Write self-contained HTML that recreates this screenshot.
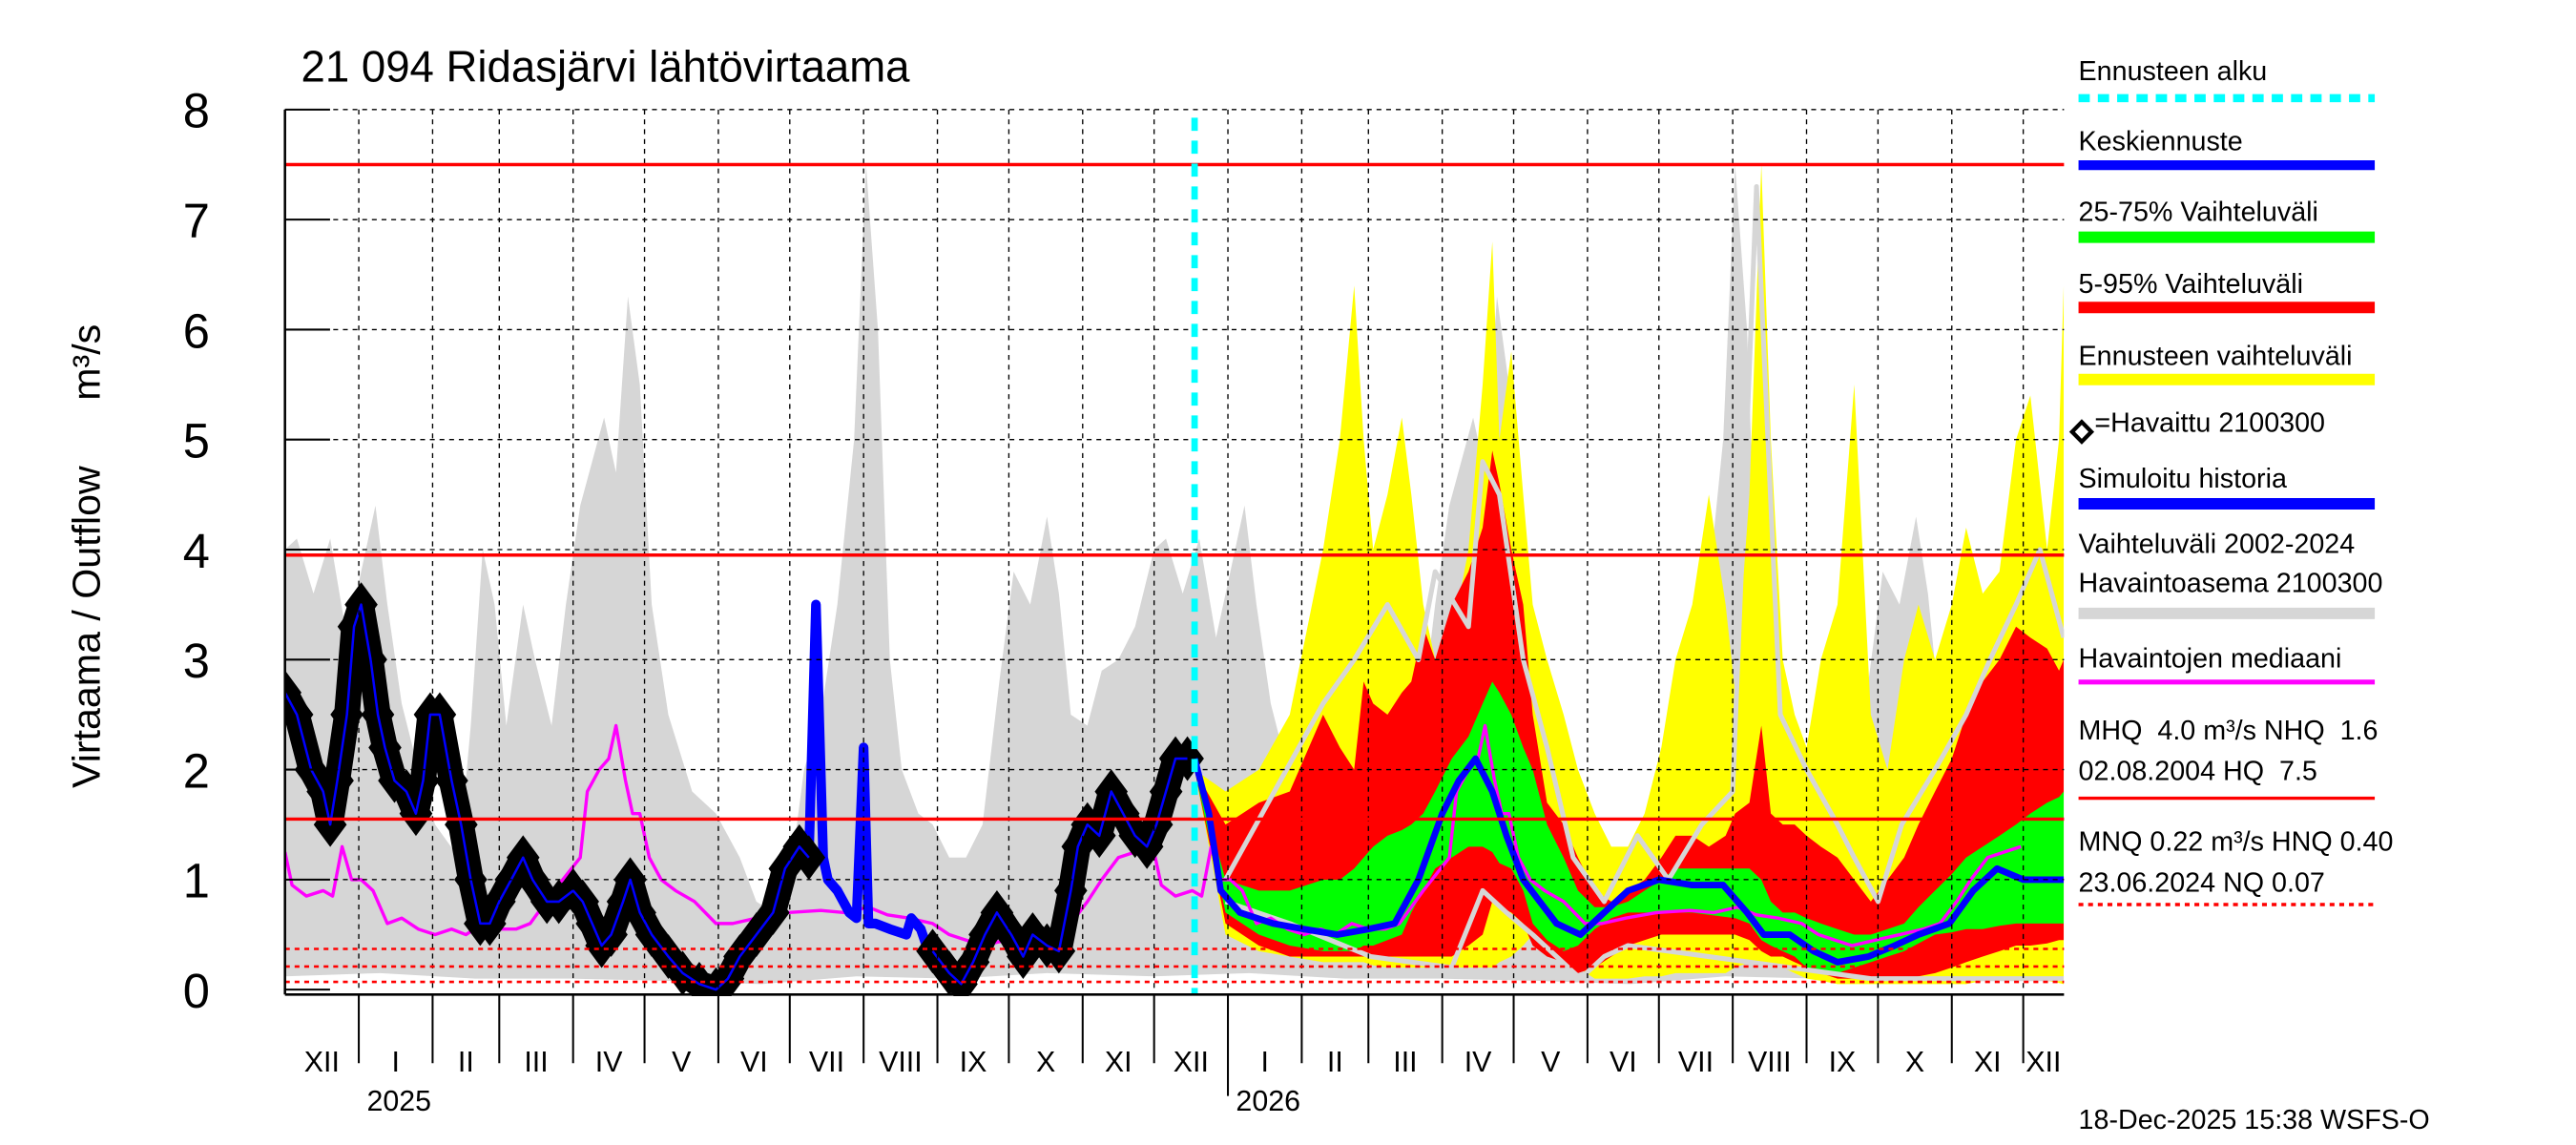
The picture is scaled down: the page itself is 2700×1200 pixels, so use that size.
<!DOCTYPE html>
<html><head><meta charset="utf-8"><style>
html,body{margin:0;padding:0;background:#fff;}
svg{display:block;font-family:"Liberation Sans",sans-serif;}
</style></head><body>
<svg id="chart" width="2700" height="1200" viewBox="0 0 1600 700" preserveAspectRatio="none" xmlns="http://www.w3.org/2000/svg">
<rect x="0" y="0" width="1600" height="700" fill="#fff"/>
<g id="plot"></g>
<text x="187" y="50" font-size="27">21 094 Ridasjärvi lähtövirtaama</text>
<text transform="translate(62,340) rotate(-90)" text-anchor="middle" font-size="24" style="white-space:pre">Virtaama / Outflow      m³/s</text>
<g font-size="17" style="white-space:pre">
<text x="1291" y="49">Ennusteen alku</text>
<line x1="1291" y1="60" x2="1475" y2="60" stroke="#00ffff" stroke-width="5" stroke-dasharray="7,5"/>
<text x="1291" y="92">Keskiennuste</text>
<line x1="1291" y1="101" x2="1475" y2="101" stroke="#0000ff" stroke-width="6"/>
<text x="1291" y="135">25-75% Vaihteluväli</text>
<line x1="1291" y1="145" x2="1475" y2="145" stroke="#00ff00" stroke-width="7"/>
<text x="1291" y="179">5-95% Vaihteluväli</text>
<line x1="1291" y1="188" x2="1475" y2="188" stroke="#ff0000" stroke-width="7"/>
<text x="1291" y="223">Ennusteen vaihteluväli</text>
<line x1="1291" y1="232" x2="1475" y2="232" stroke="#ffff00" stroke-width="7"/>
<polygon points="1293,258 1299,264 1293,270 1287,264" fill="none" stroke="#000" stroke-width="2.5"/>
<text x="1301" y="264">=Havaittu 2100300</text>
<text x="1291" y="298">Simuloitu historia</text>
<line x1="1291" y1="308" x2="1475" y2="308" stroke="#0000ff" stroke-width="7"/>
<text x="1291" y="338">Vaihteluväli 2002-2024</text>
<text x="1291" y="362">Havaintoasema 2100300</text>
<line x1="1291" y1="375" x2="1475" y2="375" stroke="#d6d6d6" stroke-width="7"/>
<text x="1291" y="408">Havaintojen mediaani</text>
<line x1="1291" y1="417" x2="1475" y2="417" stroke="#ff00ff" stroke-width="3"/>
<text x="1291" y="452">MHQ&#160; 4.0 m³/s NHQ&#160; 1.6</text>
<text x="1291" y="477">02.08.2004 HQ&#160; 7.5</text>
<line x1="1291" y1="488" x2="1475" y2="488" stroke="#ff0000" stroke-width="2"/>
<text x="1291" y="520">MNQ 0.22 m³/s HNQ 0.40</text>
<text x="1291" y="545">23.06.2024 NQ 0.07</text>
<line x1="1291" y1="553" x2="1475" y2="553" stroke="#ff0000" stroke-width="2" stroke-dasharray="3,3"/>
</g>
<text x="1291" y="690" font-size="17">18-Dec-2025 15:38 WSFS-O</text>
</svg>
<script>
// ---- data (day offsets from 1 Dec 2024) ----
const histUpDays=[0,5,12,19,26,32,38,43,49,56,63,73,78,83,88,93,100,105,112,118,124,129,134,139,144,149,154,161,171,181,191,198,205,212,218,225,232,239,244,249,254,259,266,272,279,286,293,300,306,313,320,325,330,337,343,350,357,365];
const histUpVals=[4.0,4.1,3.6,4.1,3.2,3.8,4.4,3.5,2.6,2.0,1.5,1.2,2.4,4.0,3.5,2.4,3.5,3.0,2.4,3.5,4.4,4.8,5.2,4.7,6.3,5.5,3.5,2.5,1.8,1.6,1.2,0.8,0.7,1.0,2.0,2.5,3.5,5.0,7.5,6.0,3.0,2.0,1.6,1.5,1.2,1.2,1.5,2.8,3.8,3.5,4.3,3.6,2.5,2.4,2.9,3.0,3.3,4.0];
const histLowDays=[0,40,80,120,160,200,240,280,320,365];
const histLowVals=[0.12,0.15,0.1,0.1,0.08,0.05,0.12,0.1,0.15,0.12];
const medDays=[0,3,9,16,20,24,28,32,37,43,49,56,63,70,76,83,90,97,103,113,124,127,132,136,139,143,146,149,153,158,164,172,181,188,198,211,225,235,245,253,262,272,279,286,293,303,313,323,330,337,343,350,357,364];
const medVals=[1.25,0.95,0.85,0.9,0.85,1.3,1.0,1.0,0.9,0.6,0.65,0.55,0.5,0.55,0.5,0.6,0.55,0.55,0.6,0.9,1.2,1.8,2.0,2.1,2.4,1.9,1.6,1.6,1.2,1.0,0.9,0.8,0.6,0.6,0.65,0.7,0.72,0.7,0.75,0.68,0.65,0.6,0.5,0.45,0.4,0.45,0.5,0.55,0.6,0.8,1.0,1.2,1.25,1.3];
const obsDays=[0,5,11,16,19,22,26,29,32,36,39,42,46,51,55,58,61,65,70,74,78,82,86,90,95,100,104,110,115,121,125,129,133,137,142,145,149,154,161,167,174,181,186,191,198,205,210,216,220];
const obsVals=[2.7,2.5,2.0,1.8,1.5,1.9,2.5,3.3,3.5,3.0,2.5,2.2,1.9,1.8,1.6,1.9,2.5,2.5,1.9,1.5,1.0,0.6,0.6,0.8,1.0,1.2,1.0,0.8,0.8,0.9,0.8,0.6,0.4,0.5,0.8,1.0,0.7,0.5,0.3,0.15,0.05,0.0,0.1,0.3,0.5,0.7,1.1,1.3,1.2];
const obs2Days=[272,279,284,289,294,299,305,310,314,320,325,330,333,337,342,347,352,357,362,366,370,374,379];
const obs2Vals=[0.35,0.15,0.05,0.25,0.5,0.7,0.5,0.3,0.5,0.4,0.35,0.9,1.3,1.5,1.4,1.8,1.6,1.4,1.3,1.5,1.8,2.1,2.1];
const simDays=[220,223,226,228,232,237,240,243,245,248,254,261,263,267,271,276];
const simVals=[1.2,3.5,1.2,1.0,0.9,0.7,0.65,2.2,0.6,0.6,0.55,0.5,0.65,0.55,0.3,0.3];
const fcDays=[382,395,409,422,436,443,449,453,457,463,469,473,478,483,490,497,503,507,510,515,520,524,530,537,543,550,557,564,571,578,584,591,598,605,609,615,620,624,629,634,639,645,652,659,666,673,680,686,693,700,706,713,720,727,733,740,745,747];
const yellowUp=[2.0,1.8,2.0,2.5,4.0,5.0,6.4,5.0,4.0,4.5,5.2,4.5,3.5,3.0,3.2,4.0,5.5,6.8,5.0,5.8,4.5,3.5,3.0,2.5,2.0,1.6,1.3,1.3,1.6,2.2,3.0,3.5,4.5,3.5,2.7,4.5,7.5,5.0,3.0,2.5,2.2,3.0,3.5,5.5,2.5,2.0,3.0,3.5,3.0,3.5,4.2,3.6,3.8,5.0,5.4,4.0,5.0,6.4];
const yellowLow=[2.0,0.5,0.35,0.3,0.25,0.25,0.25,0.25,0.22,0.2,0.2,0.2,0.2,0.2,0.2,0.2,0.2,0.2,0.25,0.3,0.4,0.5,0.4,0.3,0.2,0.1,0.1,0.1,0.12,0.12,0.15,0.15,0.15,0.15,0.2,0.25,0.25,0.2,0.2,0.15,0.1,0.08,0.05,0.05,0.05,0.05,0.05,0.05,0.05,0.05,0.05,0.08,0.1,0.1,0.1,0.08,0.06,0.05];
const redUp=[2.0,1.5,1.7,1.8,2.5,2.2,2.0,2.8,2.6,2.5,2.7,2.8,3.3,3.0,3.5,3.8,4.2,4.9,4.6,4.0,3.5,2.5,1.7,1.5,1.2,0.9,0.8,0.9,1.0,1.2,1.4,1.4,1.3,1.4,1.6,1.7,2.4,1.6,1.5,1.5,1.4,1.3,1.2,1.0,0.8,1.0,1.2,1.5,1.8,2.1,2.5,2.8,3.0,3.3,3.2,3.1,2.9,3.0];
const redLow=[2.0,0.6,0.4,0.3,0.3,0.3,0.3,0.3,0.3,0.3,0.3,0.3,0.3,0.3,0.3,0.4,0.5,0.8,0.75,0.7,0.6,0.4,0.3,0.25,0.15,0.2,0.3,0.4,0.45,0.5,0.5,0.5,0.5,0.5,0.5,0.45,0.35,0.3,0.3,0.25,0.2,0.15,0.1,0.1,0.1,0.1,0.1,0.12,0.15,0.2,0.25,0.3,0.35,0.4,0.4,0.42,0.45,0.45];
const greenUp=[2.0,1.0,0.9,0.9,1.0,1.0,1.1,1.2,1.3,1.4,1.45,1.5,1.6,1.8,2.1,2.3,2.6,2.8,2.7,2.5,2.2,2.0,1.5,1.2,0.9,0.75,0.75,0.8,0.9,1.0,1.1,1.1,1.1,1.1,1.1,1.1,1.0,0.8,0.7,0.7,0.65,0.6,0.55,0.5,0.5,0.55,0.6,0.75,0.9,1.05,1.2,1.3,1.4,1.5,1.6,1.7,1.75,1.8];
const greenLow=[2.0,0.7,0.5,0.4,0.35,0.35,0.35,0.4,0.4,0.45,0.5,0.7,0.9,1.1,1.2,1.3,1.3,1.25,1.15,1.1,0.9,0.6,0.45,0.35,0.4,0.55,0.65,0.7,0.7,0.7,0.7,0.7,0.68,0.66,0.65,0.6,0.45,0.4,0.35,0.3,0.2,0.18,0.15,0.2,0.25,0.3,0.35,0.42,0.5,0.52,0.55,0.55,0.58,0.6,0.6,0.6,0.6,0.6];
const meanDays=[382,388,393,401,415,428,442,455,466,476,486,493,500,507,513,520,527,534,544,554,564,577,591,604,614,621,632,642,652,665,676,686,699,709,719,730,747];
const meanVals=[2.1,1.6,0.9,0.7,0.6,0.55,0.5,0.55,0.6,1.0,1.6,1.9,2.1,1.8,1.4,1.0,0.8,0.6,0.5,0.7,0.9,1.0,0.95,0.95,0.7,0.5,0.5,0.35,0.25,0.3,0.4,0.5,0.6,0.9,1.1,1.0,1.0];
const gray1Days=[395,436,449,463,476,483,497,503,510,520,530,541,554,568,581,595,608,618,628,639,652,659,669,679,693,706,716,727,737,747];
const gray1Vals=[1.0,2.6,3.0,3.5,3.0,3.8,3.3,4.8,4.5,3.0,2.2,1.2,0.8,1.4,1.0,1.5,1.8,7.3,2.5,2.0,1.5,1.2,0.8,1.5,2.0,2.5,3.0,3.5,4.0,3.2];
const gray2Days=[395,422,456,490,503,513,524,534,544,554,564,598,632,666,700,747];
const gray2Vals=[0.8,0.6,0.3,0.2,0.9,0.7,0.5,0.3,0.1,0.3,0.4,0.3,0.2,0.1,0.1,0.1];
const yTicks=[0,1,2,3,4,5,6,7,8];
const monthLabels=["XII","I","II","III","IV","V","VI","VII","VIII","IX","X","XI","XII","I","II","III","IV","V","VI","VII","VIII","IX","X","XI","XII"];
const monthStartDays=[0,31,62,90,121,151,182,212,243,274,304,335,365,396,427,455,486,516,547,577,608,639,669,700,730];
const yearLabels=["2025","2026"];
const yearStartDays=[31,396];
const refSolid=[7.5,3.95,1.55];
const refDashed=[0.37,0.21,0.07];
const forecastStartDay=382;
const lastDay=747;

// ---- axes ----
const X0=177,X1=1282,Y0=605,YT=67;
const PX=1.479;
function xs(d){return X0+d*PX;}
function ys(v){return Y0-(Y0-YT)*v/8;}
const NS="http://www.w3.org/2000/svg";
const plot=document.getElementById('plot');
function mk(tag,attrs,parent){const e=document.createElementNS(NS,tag);for(const k in attrs)e.setAttribute(k,attrs[k]);(parent||plot).appendChild(e);return e;}
function pts(days,vals,off){return days.map((d,i)=>xs(d+(off||0)).toFixed(1)+","+ys(vals[i]).toFixed(1));}
const clip=mk('clipPath',{id:'pc'});mk('rect',{x:X0,y:YT-2,width:X1-X0,height:Y0-YT+6},clip);
const g=mk('g',{'clip-path':'url(#pc)'});
[0,365].forEach(off=>{
  const p=pts(histUpDays,histUpVals,off).concat(pts(histLowDays,histLowVals,off).reverse());
  const e=mk('polygon',{points:p.join(' '),fill:'#d6d6d6'},g);
  
  
});
function bandG(dU,vU,dL,vL,fill,name){const p=pts(dU,vU).concat(pts(dL,vL).reverse());const e=mk('polygon',{points:p.join(' '),fill:fill},g);}
function lineG(d,v,off,stroke,w,name){const e=mk('polyline',{points:pts(d,v,off).join(' '),fill:'none',stroke:stroke,'stroke-width':w,'stroke-linejoin':'round'},g);return e;}
bandG(fcDays,yellowUp,fcDays,yellowLow,'#ffff00','forecast-range-band');
bandG(fcDays,redUp,fcDays,redLow,'#ff0000','band-5-95');
bandG(fcDays,greenUp,fcDays,greenLow,'#00ff00','band-25-75');
lineG(gray1Days,gray1Vals,0,'#d6d6d6',3,'history-trace-high');
lineG(gray2Days,gray2Vals,0,'#d6d6d6',3,'history-trace-low');
yTicks.forEach(v=>{if(v>0){const e=mk('line',{x1:X0,x2:X1,y1:ys(v),y2:ys(v),stroke:'#000','stroke-width':0.8,'stroke-dasharray':'3,3'});

}});
monthStartDays.forEach((d,i)=>{if(i>0){const e=mk('line',{x1:xs(d),x2:xs(d),y1:YT,y2:Y0,stroke:'#000','stroke-width':0.8,'stroke-dasharray':'3,3'});

}});
refSolid.forEach(v=>{const e=mk('line',{x1:X0,x2:X1,y1:ys(v),y2:ys(v),stroke:'#ff0000','stroke-width':2});

});
refDashed.forEach(v=>{const e=mk('line',{x1:X0,x2:X1,y1:ys(v),y2:ys(v),stroke:'#ff0000','stroke-width':1.5,'stroke-dasharray':'3,3'});

});
[0,365].forEach(off=>lineG(medDays,medVals,off,'#ff00ff',2,'median-line'));
lineG(simDays,simVals,0,'#0000ff',6,'simulated-history');
[[obsDays,obsVals],[obs2Days,obs2Vals]].forEach(([d,v])=>{
  lineG(d,v,0,'#000',16,'observed-band');
  d.forEach((dd,i)=>{const cx=xs(dd),cy=ys(v[i]);const e=mk('polygon',{points:`${cx},${cy-12} ${cx+9},${cy} ${cx},${cy+12} ${cx-9},${cy}`,fill:'#000',stroke:'#000','stroke-width':2},g);
  
  });
  lineG(d,v,0,'#0000ff',1.5,'simulated-under-observed');
});
lineG(meanDays,meanVals,0,'#0000ff',4,'forecast-mean');
const fs=mk('line',{x1:xs(forecastStartDay),x2:xs(forecastStartDay),y1:YT+5,y2:Y0+3,stroke:'#00ffff','stroke-width':4,'stroke-dasharray':'8,6'});


mk('line',{x1:X0,x2:X0,y1:YT,y2:Y0+3,stroke:'#000','stroke-width':1.5});
mk('line',{x1:X0,x2:X1,y1:Y0+3,y2:Y0+3,stroke:'#000','stroke-width':1.5});
yTicks.forEach(v=>{mk('line',{x1:X0,x2:X0+28,y1:ys(v),y2:ys(v),stroke:'#000','stroke-width':1.2});
const t=mk('text',{x:122,y:ys(v)+11,'text-anchor':'middle','font-size':30});t.textContent=v;

});
monthStartDays.forEach((d,i)=>{
  if(i>0) mk('line',{x1:xs(d),x2:xs(d),y1:Y0+3,y2:Y0+ (i===13?65:45),stroke:'#000','stroke-width':1.2});
  const end=i<monthStartDays.length-1?monthStartDays[i+1]:lastDay;
  const t=mk('text',{x:(xs(d)+xs(end))/2,y:655,'text-anchor':'middle','font-size':18});t.textContent=monthLabels[i];
  
  
});
yearLabels.forEach((y,i)=>{const t=mk('text',{x:xs(yearStartDays[i])+25,y:679,'text-anchor':'middle','font-size':18});t.textContent=y;

});
</script>
</body></html>
